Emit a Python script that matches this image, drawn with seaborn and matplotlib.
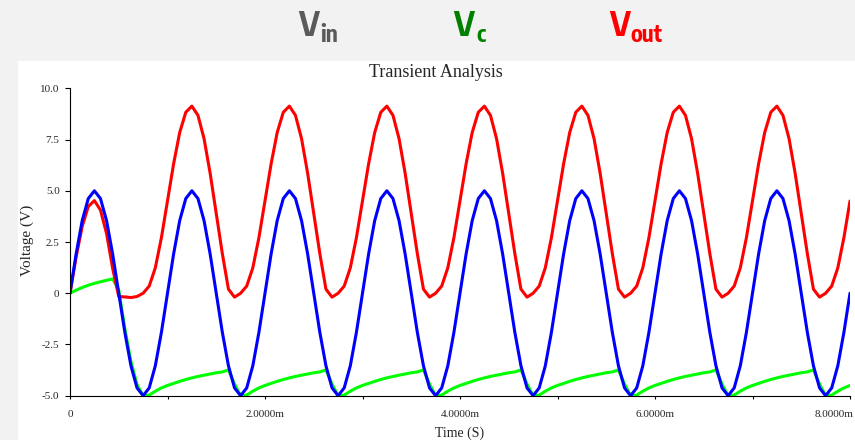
import matplotlib
matplotlib.use('Agg')
import matplotlib.pyplot as plt
import seaborn as sns
import pandas as pd
from matplotlib import font_manager
from matplotlib.patches import Rectangle
from matplotlib.ticker import FixedLocator, MultipleLocator
from matplotlib.transforms import ScaledTranslation

# ---------------- data (time in ms, voltages in V) ----------------
time_ms = [
    0.0000, 0.0625, 0.1250, 0.1875, 0.2500, 0.3125, 0.3750, 0.4375, 0.5000, 0.5625, 0.6250, 0.6875, 0.7500, 0.8125, 0.8750, 0.9375,
    1.0000, 1.0625, 1.1250, 1.1875, 1.2500, 1.3125, 1.3750, 1.4375, 1.5000, 1.5625, 1.6250, 1.6875, 1.7500, 1.8125, 1.8750, 1.9375,
    2.0000, 2.0625, 2.1250, 2.1875, 2.2500, 2.3125, 2.3750, 2.4375, 2.5000, 2.5625, 2.6250, 2.6875, 2.7500, 2.8125, 2.8750, 2.9375,
    3.0000, 3.0625, 3.1250, 3.1875, 3.2500, 3.3125, 3.3750, 3.4375, 3.5000, 3.5625, 3.6250, 3.6875, 3.7500, 3.8125, 3.8750, 3.9375,
    4.0000, 4.0625, 4.1250, 4.1875, 4.2500, 4.3125, 4.3750, 4.4375, 4.5000, 4.5625, 4.6250, 4.6875, 4.7500, 4.8125, 4.8750, 4.9375,
    5.0000, 5.0625, 5.1250, 5.1875, 5.2500, 5.3125, 5.3750, 5.4375, 5.5000, 5.5625, 5.6250, 5.6875, 5.7500, 5.8125, 5.8750, 5.9375,
    6.0000, 6.0625, 6.1250, 6.1875, 6.2500, 6.3125, 6.3750, 6.4375, 6.5000, 6.5625, 6.6250, 6.6875, 6.7500, 6.8125, 6.8750, 6.9375,
    7.0000, 7.0625, 7.1250, 7.1875, 7.2500, 7.3125, 7.3750, 7.4375, 7.5000, 7.5625, 7.6250, 7.6875, 7.7500, 7.8125, 7.8750, 7.9375,
    8.0000,
]

v_in = [
    0.00, 1.91, 3.54, 4.62, 5.00, 4.62, 3.54, 1.91, 0.00, -1.91, -3.54, -4.62, -5.00, -4.62, -3.54, -1.91,
    0.00, 1.91, 3.54, 4.62, 5.00, 4.62, 3.54, 1.91, 0.00, -1.91, -3.54, -4.62, -5.00, -4.62, -3.54, -1.91,
    0.00, 1.91, 3.54, 4.62, 5.00, 4.62, 3.54, 1.91, 0.00, -1.91, -3.54, -4.62, -5.00, -4.62, -3.54, -1.91,
    0.00, 1.91, 3.54, 4.62, 5.00, 4.62, 3.54, 1.91, 0.00, -1.91, -3.54, -4.62, -5.00, -4.62, -3.54, -1.91,
    0.00, 1.91, 3.54, 4.62, 5.00, 4.62, 3.54, 1.91, 0.00, -1.91, -3.54, -4.62, -5.00, -4.62, -3.54, -1.91,
    0.00, 1.91, 3.54, 4.62, 5.00, 4.62, 3.54, 1.91, 0.00, -1.91, -3.54, -4.62, -5.00, -4.62, -3.54, -1.91,
    0.00, 1.91, 3.54, 4.62, 5.00, 4.62, 3.54, 1.91, 0.00, -1.91, -3.54, -4.62, -5.00, -4.62, -3.54, -1.91,
    0.00, 1.91, 3.54, 4.62, 5.00, 4.62, 3.54, 1.91, 0.00, -1.91, -3.54, -4.62, -5.00, -4.62, -3.54, -1.91,
    0.00,
]

v_c = [
    0.00, 0.15, 0.28, 0.39, 0.48, 0.56, 0.63, 0.70, 0.16, -1.73, -3.33, -4.46, -5.00, -4.97, -4.78, -4.62,
    -4.50, -4.40, -4.30, -4.21, -4.13, -4.06, -4.00, -3.94, -3.88, -3.84, -3.74, -4.43, -5.00, -4.97, -4.78, -4.62,
    -4.50, -4.40, -4.30, -4.21, -4.13, -4.06, -4.00, -3.94, -3.88, -3.84, -3.74, -4.43, -5.00, -4.97, -4.78, -4.62,
    -4.50, -4.40, -4.30, -4.21, -4.13, -4.06, -4.00, -3.94, -3.88, -3.84, -3.74, -4.43, -5.00, -4.97, -4.78, -4.62,
    -4.50, -4.40, -4.30, -4.21, -4.13, -4.06, -4.00, -3.94, -3.88, -3.84, -3.74, -4.43, -5.00, -4.97, -4.78, -4.62,
    -4.50, -4.40, -4.30, -4.21, -4.13, -4.06, -4.00, -3.94, -3.88, -3.84, -3.74, -4.43, -5.00, -4.97, -4.78, -4.62,
    -4.50, -4.40, -4.30, -4.21, -4.13, -4.06, -4.00, -3.94, -3.88, -3.84, -3.74, -4.43, -5.00, -4.97, -4.78, -4.62,
    -4.50, -4.40, -4.30, -4.21, -4.13, -4.06, -4.00, -3.94, -3.88, -3.84, -3.74, -4.43, -5.00, -4.97, -4.78, -4.62,
    -4.50,
]

v_out = [
    0.00, 1.76, 3.26, 4.23, 4.52, 4.06, 2.91, 1.21, -0.16, -0.18, -0.21, -0.16, 0.00, 0.35, 1.24, 2.71,
    4.50, 6.31, 7.84, 8.83, 9.13, 8.68, 7.54, 5.85, 3.88, 1.93, 0.20, -0.19, 0.00, 0.35, 1.24, 2.71,
    4.50, 6.31, 7.84, 8.83, 9.13, 8.68, 7.54, 5.85, 3.88, 1.93, 0.20, -0.19, 0.00, 0.35, 1.24, 2.71,
    4.50, 6.31, 7.84, 8.83, 9.13, 8.68, 7.54, 5.85, 3.88, 1.93, 0.20, -0.19, 0.00, 0.35, 1.24, 2.71,
    4.50, 6.31, 7.84, 8.83, 9.13, 8.68, 7.54, 5.85, 3.88, 1.93, 0.20, -0.19, 0.00, 0.35, 1.24, 2.71,
    4.50, 6.31, 7.84, 8.83, 9.13, 8.68, 7.54, 5.85, 3.88, 1.93, 0.20, -0.19, 0.00, 0.35, 1.24, 2.71,
    4.50, 6.31, 7.84, 8.83, 9.13, 8.68, 7.54, 5.85, 3.88, 1.93, 0.20, -0.19, 0.00, 0.35, 1.24, 2.71,
    4.50, 6.31, 7.84, 8.83, 9.13, 8.68, 7.54, 5.85, 3.88, 1.93, 0.20, -0.19, 0.00, 0.35, 1.24, 2.71,
    4.50,
]

y_ticks = [-5.0, -2.5, 0.0, 2.5, 5.0, 7.5, 10.0]
y_tick_labels = ['-5.0', '-2.5', '0', '2.5', '5.0', '7.5', '10.0']
x_ticks = [0, 2, 4, 6, 8]
x_tick_labels = ['0', '2.0000m', '4.0000m', '6.0000m', '8.0000m']

# ---------------- style ----------------
sns.set_style('white')
names = sorted({f.name for f in font_manager.fontManager.ttflist})
narrow_cands = [n for n in names if ('Narrow' in n or 'Condensed' in n) and 'Sans' in n]
narrow = narrow_cands[0] if narrow_cands else 'Liberation Sans'
plt.rcParams['font.family'] = ['Liberation Serif', 'DejaVu Serif']

W, H = 855, 440
fig = plt.figure(figsize=(W / 100, H / 100), dpi=100, facecolor='#f2f2f2')
fig.add_artist(Rectangle((18 / W, 0), 1 - 18 / W, (H - 61) / H, transform=fig.transFigure,
                         facecolor='white', edgecolor='none', zorder=0))

ax = fig.add_axes([70 / W, (H - 395.7) / H, 780 / W, 307.4 / H])
ax.set_facecolor('white')

df = pd.DataFrame({'t': time_ms, 'vin': v_in, 'vc': v_c, 'vout': v_out})
sns.lineplot(data=df, x='t', y='vc', ax=ax, color='#00ff00', linewidth=2.2, estimator=None, sort=False)
sns.lineplot(data=df, x='t', y='vout', ax=ax, color='#ff0000', linewidth=2.2, estimator=None, sort=False)
sns.lineplot(data=df, x='t', y='vin', ax=ax, color='#0000ff', linewidth=2.2, estimator=None, sort=False)

ax.set_xlim(0, 8)
ax.set_ylim(-5, 10)
ax.set_xlabel('')
ax.set_ylabel('')
for s in ['top', 'right']:
    ax.spines[s].set_visible(False)
for s in ['left', 'bottom']:
    ax.spines[s].set_color('black')
    ax.spines[s].set_linewidth(0.8)

ax.yaxis.set_major_locator(FixedLocator(y_ticks))
ax.set_yticklabels(y_tick_labels)
ax.xaxis.set_major_locator(FixedLocator(x_ticks))
ax.set_xticklabels(x_tick_labels)
ax.xaxis.set_minor_locator(MultipleLocator(1))
ax.tick_params(axis='y', which='major', direction='out', length=3.5, width=0.8, color='black',
               labelsize=8, pad=4, left=True)
ax.tick_params(axis='x', which='both', direction='out', length=2.5, width=0.8, color='black',
               bottom=True)
ax.tick_params(axis='x', which='major', labelsize=8, pad=8)
ax.grid(False)

# keep the last x label inside the figure, as in the reference
last = ax.get_xticklabels()[-1]
last.set_transform(last.get_transform() + ScaledTranslation(-16 / 100, 0, fig.dpi_scale_trans))

# axis titles
fig.text(436.3 / W, 1 - 77.3 / H, 'Transient Analysis', ha='center', va='baseline', fontsize=13)
fig.text(460 / W, 1 - 437.3 / H, 'Time (S)', ha='center', va='baseline', fontsize=10)
fig.text(27.7 / W, 1 - 240.5 / H, 'Voltage (V)', ha='center', va='center', rotation=90, fontsize=11)

# header legend
def header(xv, xs, sub, color):
    fig.text(xv / W, 1 - 36 / H, 'V', ha='left', va='baseline', fontsize=24.5,
             fontweight='bold', family=[narrow, 'DejaVu Sans'], color=color)
    fig.text(xs / W, 1 - 41.7 / H, sub, ha='left', va='baseline', fontsize=16.5,
             fontweight='bold', family=[narrow, 'DejaVu Sans'], color=color)

header(298, 320.7, 'in', '#5a5a5a')
header(453.3, 476.7, 'c', '#008000')
header(609.3, 630, 'out', '#ff0000')

fig.savefig('out.png', dpi=100, facecolor=fig.get_facecolor())
